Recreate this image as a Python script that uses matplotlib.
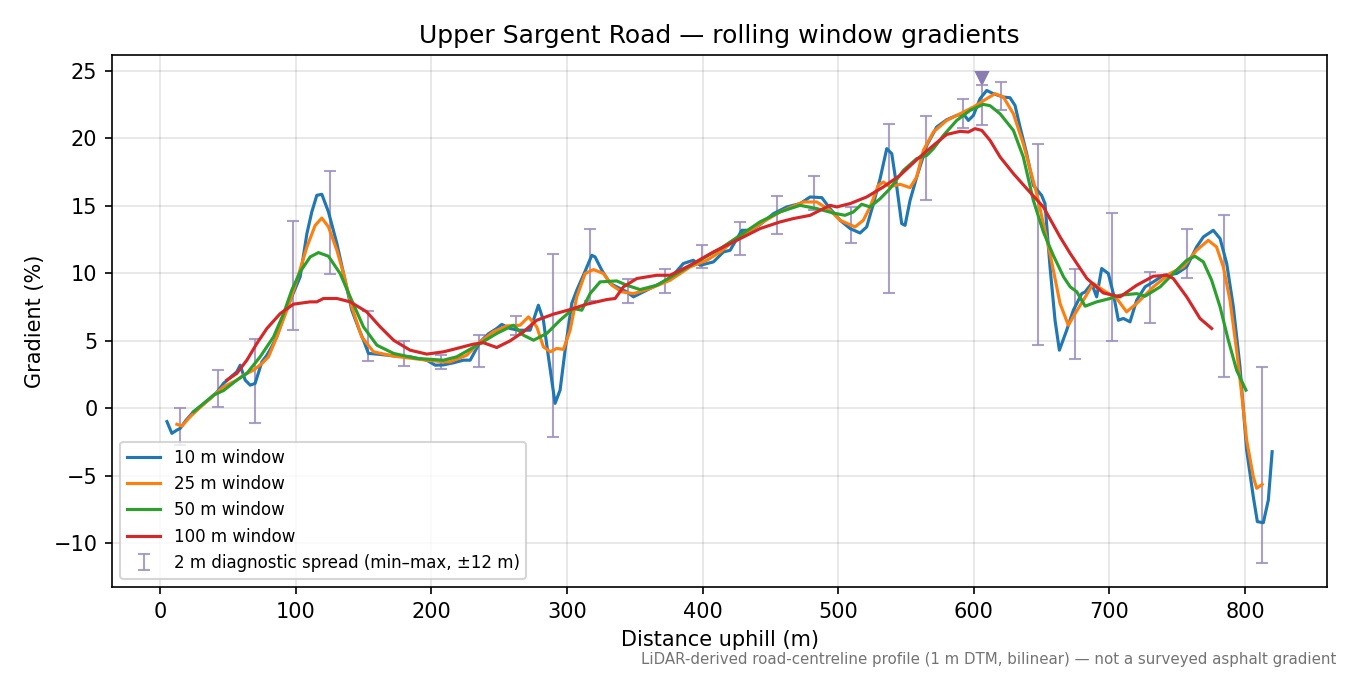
import matplotlib
matplotlib.use("Agg")
import matplotlib.pyplot as plt
import numpy as np

# ---------------- data ----------------
dist_10 = [5, 8.6, 12.3, 14.8, 19, 24.6, 30, 36.9, 42, 46.7, 52, 56.5, 59, 62.7, 66.4, 70, 75, 78.7, 82, 86,
           91, 97, 103.2, 108.2, 111.8, 115.5, 119.2, 124.1, 130.3, 135.2, 141.3, 146, 149.9, 153.6, 159.8,
           172.1, 184.3, 196.6, 202.8, 208.9, 216, 223.6, 228.6, 236, 242, 248.2, 251.9, 258, 264.2, 272.8,
           278.9, 282.6, 286.3, 291.2, 294.9, 298.6, 303.5, 307.2, 312.1, 318.3, 320.7, 325.7, 331.8, 336.7,
           344.1, 349, 356.3, 364, 371.1, 377.2, 385.8, 393.2, 398.2, 408, 415.4, 420.3, 428.9, 435, 442.4,
           452.2, 462, 471.9, 479.3, 487.9, 494, 501.4, 508.8, 516.1, 521, 526, 530.9, 535.8, 539.5, 543.2,
           546.8, 549.3, 553, 557.9, 565.3, 572.6, 580, 587.4, 592.3, 596, 599.7, 604.6, 609.5, 614.4, 621.8,
           626.7, 630.4, 634.1, 639, 643.9, 650, 652.5, 656.2, 659.9, 663.1, 668.5, 673.4, 679.6, 682, 686.9,
           690.6, 694.3, 699.2, 702.9, 706.6, 710.3, 715.2, 720.1, 726.3, 732.4, 739.8, 749.6, 757, 764.3,
           769.3, 776.6, 781.6, 786.5, 791.4, 796.3, 801.2, 806.1, 809.1, 813.5, 817.2, 820]
grad_10 = [-1.0, -1.87, -1.63, -1.5, -0.9, -0.27, 0.15, 0.71, 1.2, 1.83, 2.3, 2.69, 3.18, 2.07, 1.7, 1.83, 3.43,
           3.92, 4.5, 5.28, 6.76, 8.24, 9.72, 12.93, 14.53, 15.76, 15.84, 14.53, 12.19, 9.97, 7.25, 6.0, 5.03,
           4.05, 4.0, 3.87, 3.8, 3.55, 3.18, 3.2, 3.35, 3.55, 3.55, 4.91, 5.5, 5.9, 6.2, 5.9, 5.77, 5.77, 7.62,
           6.51, 3.8, 0.35, 1.33, 4.29, 7.75, 8.73, 9.84, 11.32, 11.2, 10.21, 9.23, 8.98, 8.61, 8.24, 8.61, 9.0,
           9.35, 9.72, 10.71, 10.95, 10.58, 10.83, 11.57, 11.69, 13.17, 13.17, 13.6, 14.4, 14.9, 15.15, 15.64,
           15.59, 14.78, 13.91, 13.3, 12.97, 13.42, 15.15, 17.0, 19.22, 18.85, 16.38, 13.67, 13.54, 15.39, 17.12,
           19.46, 20.82, 21.36, 21.68, 21.8, 21.31, 21.68, 22.92, 23.53, 23.29, 23.04, 22.99, 22.42, 20.82, 18.85,
           16.5, 15.76, 15.15, 10.46, 6.51, 4.29, 5.77, 7.25, 8.48, 8.6, 9.23, 8.24, 10.34, 9.97, 8.48, 6.51, 6.64,
           6.39, 7.99, 8.98, 9.35, 9.84, 9.97, 10.46, 11.94, 12.68, 13.17, 12.56, 10.71, 7.5, 3.06, -3.11, -6.56,
           -8.41, -8.49, -6.81, -3.23]

dist_25 = [12.3, 16, 22.1, 30, 36.9, 46.7, 56.5, 61.4, 68.8, 75, 79.9, 86, 93.4, 100.8, 108.2, 114.3, 119.2,
           124.1, 130.3, 135.2, 141.3, 148.6, 157.3, 172.1, 196.6, 208.9, 213.8, 226.1, 236, 245.7, 255.6, 265.4,
           271.6, 277.7, 282.6, 287.6, 292.5, 297.4, 302.3, 307.2, 313.4, 319.5, 326.9, 333.1, 340.4, 349, 361.3,
           376, 390.8, 403.1, 413, 425.2, 435, 444.8, 457.1, 474.3, 484.1, 494, 501.4, 512.4, 518.5, 523.5,
           529.6, 533.3, 538.2, 545.6, 553, 557.9, 562.8, 570.2, 580, 589.8, 599.7, 609.5, 615.7, 621.8, 629.2,
           636.5, 646.4, 656.2, 663.6, 669.7, 674.7, 680.8, 688.1, 695.5, 705.4, 712.7, 720.1, 732.4, 744.7,
           754.5, 764.3, 772.9, 779, 784, 788.9, 793.8, 797.5, 801.2, 806.1, 808.6, 812.7]
grad_25 = [-1.2, -1.33, -0.64, 0.1, 0.71, 1.58, 2.07, 2.44, 2.81, 3.3, 3.8, 5.28, 7.25, 9.47, 11.94, 13.54, 14.08,
           13.42, 11.69, 9.97, 7.5, 5.28, 4.17, 3.85, 3.55, 3.43, 3.43, 3.92, 4.91, 5.65, 6.09, 6.14, 6.76, 6.02,
           4.54, 4.17, 4.42, 4.35, 5.77, 8.24, 9.97, 10.26, 9.97, 9.1, 8.61, 8.48, 8.86, 9.47, 10.46, 10.95, 11.57,
           12.56, 13.17, 13.8, 14.53, 15.27, 15.27, 14.65, 13.91, 13.42, 13.91, 14.9, 16.5, 16.75, 16.4, 16.58,
           16.33, 17.12, 19.09, 20.45, 21.31, 21.8, 22.3, 22.92, 23.29, 23.04, 21.8, 19.58, 15.88, 11.45, 7.75,
           6.14, 7.0, 7.99, 9.23, 8.73, 8.12, 7.13, 7.75, 8.98, 9.97, 10.46, 11.69, 12.43, 11.94, 10.46, 7.99,
           4.29, 1.09, -2.36, -5.08, -5.94, -5.65]

dist_50 = [24.6, 39.3, 46.7, 56.5, 63.9, 73.7, 83.6, 91, 97, 103.2, 110.6, 116.7, 124.1, 132.7, 140.1, 149.9,
           159.8, 172.1, 189.2, 208.9, 218.7, 236, 248.2, 260.5, 267.9, 275.3, 285.1, 294.9, 304.8, 310.9, 317,
           324.4, 336.7, 344.1, 353.9, 366.2, 381, 395.7, 413, 427.7, 442.4, 457.1, 471.9, 484.1, 496.4, 505,
           511.2, 517.3, 523.5, 530.9, 538.2, 548.1, 557.9, 565.3, 570.2, 577.6, 587.4, 597.2, 607, 612, 619.4,
           629.2, 636.5, 643.9, 651.3, 658.7, 666.2, 671.1, 676, 682.1, 690.6, 700.5, 707.8, 720.1, 726.3, 737.4,
           747.1, 757, 763.1, 769.3, 775.4, 781.6, 787.7, 793.8, 800.7]
grad_50 = [-0.27, 0.96, 1.3, 2.07, 2.57, 3.8, 5.28, 7.0, 8.73, 10.09, 11.2, 11.52, 11.25, 9.97, 8.24, 6.02, 4.66,
           4.05, 3.68, 3.55, 3.8, 4.79, 5.53, 6.14, 5.4, 5.03, 5.53, 6.51, 7.38, 7.25, 8.48, 9.35, 9.42, 9.1, 8.78,
           9.1, 9.97, 10.83, 11.81, 12.8, 13.8, 14.53, 15.02, 14.78, 14.45, 14.28, 14.53, 15.1, 14.9, 15.51, 16.26,
           17.61, 18.48, 18.72, 19.22, 20.2, 21.31, 22.05, 22.5, 22.4, 21.8, 20.57, 18.6, 15.39, 13.05, 11.3, 9.72,
           8.98, 8.61, 7.55, 7.87, 8.12, 8.36, 8.48, 8.29, 8.98, 9.97, 10.95, 11.25, 10.83, 9.47, 7.5, 5.03, 2.81,
           1.33]

dist_100 = [49.1, 56.5, 63.9, 71.3, 78.7, 88.5, 98.3, 110.6, 115.5, 120.4, 130.3, 140.1, 152.3, 162.2, 172.1,
            184.3, 196.6, 208.9, 213.8, 231, 238.4, 248.2, 258, 267.9, 277.7, 290, 302.3, 314.6, 329.3, 335.5,
            341.6, 351.5, 366.2, 376, 390.8, 408, 425.2, 442.4, 457.1, 466.9, 479.3, 486.6, 494, 498.9, 508.8,
            521, 533.3, 545.6, 557.9, 570.2, 580, 589.8, 596, 600.9, 605.9, 612, 619.4, 629.2, 639, 651.3, 663.6,
            671.1, 683.4, 695.5, 707.8, 720.1, 732.4, 742.3, 747.1, 757, 766.8, 775.4]
grad_100 = [2.07, 2.57, 3.55, 4.79, 5.9, 7.0, 7.7, 7.87, 7.87, 8.12, 8.12, 7.87, 7.13, 6.02, 5.03, 4.29, 4.0,
            4.17, 4.29, 4.74, 4.84, 4.49, 4.98, 5.65, 6.51, 6.96, 7.3, 7.7, 8.04, 8.12, 8.98, 9.6, 9.84, 9.84,
            10.58, 11.57, 12.43, 13.3, 13.79, 14.04, 14.28, 14.65, 15.02, 14.9, 15.15, 15.64, 16.38, 17.24, 18.4,
            19.46, 20.27, 20.5, 20.45, 20.7, 20.57, 19.83, 18.6, 17.37, 16.26, 14.9, 12.68, 11.45, 9.6, 8.53, 8.24,
            9.1, 9.77, 9.84, 9.6, 8.24, 6.64, 5.9]

spread_x = [14.7, 42.3, 70, 97.6, 125.3, 152.9, 179.9, 207, 235.2, 262.5, 290, 317.3, 345.1, 372.4, 399.9,
            427.6, 454.7, 482.2, 509.3, 537.3, 564.6, 591.8, 605.8, 619.8, 647.4, 674.7, 701.7, 730, 757,
            784.5, 812.5]
spread_min = [-2.74, 0.1, -1.09, 5.77, 9.92, 3.5, 3.11, 2.89, 3.06, 5.4, -2.17, 7.92, 7.75, 8.53, 10.41, 11.32,
              12.93, 14.65, 12.23, 8.53, 15.39, 20.72, 21.0, 22.1, 4.66, 3.63, 4.96, 6.31, 9.64, 2.32, -11.45]
spread_max = [-0.02, 2.81, 5.1, 13.84, 17.56, 7.18, 4.96, 3.92, 5.4, 6.81, 11.45, 13.3, 9.6, 10.34, 12.06, 13.79,
              15.69, 17.17, 14.9, 21.02, 21.61, 22.92, 23.9, 24.15, 19.54, 10.34, 14.45, 10.09, 13.25, 14.28, 3.06]

peak_x = 605.8
peak_marker_y = 24.45

series_labels = ["10 m window", "25 m window", "50 m window", "100 m window"]
spread_label = "2 m diagnostic spread (min\u2013max, \u00b112 m)"
title = "Upper Sargent Road \u2014 rolling window gradients"
xlabel = "Distance uphill (m)"
ylabel = "Gradient (%)"
footnote = "LiDAR-derived road-centreline profile (1 m DTM, bilinear) \u2014 not a surveyed asphalt gradient"

# ---------------- plot ----------------
fig = plt.figure(figsize=(9, 4.5), dpi=150)
ax = fig.add_axes([0.083, 0.1304, 0.9, 0.788])

colors = ["#1f77b4", "#ff7f0e", "#2ca02c", "#d62728"]
for d, g, lab, c in zip([dist_10, dist_25, dist_50, dist_100],
                        [grad_10, grad_25, grad_50, grad_100], series_labels, colors):
    ax.plot(d, g, color=c, lw=1.5, label=lab, zorder=3)

smin = np.array(spread_min)
smax = np.array(spread_max)
mid = (smin + smax) / 2
half = (smax - smin) / 2
ax.errorbar(spread_x, mid, yerr=half, fmt="none", ecolor="#9d90c0", elinewidth=1.0,
            capsize=3, capthick=1.0, alpha=0.85, zorder=2, label=spread_label)

ax.plot([peak_x], [peak_marker_y], marker="v", color="#8a7bb0", markersize=6, ls="none", zorder=4)

ax.set_xlim(-35.5, 860.5)
ax.set_ylim(-13.25, 26.15)
ax.set_xticks(np.arange(0, 801, 100))
ax.set_yticks(np.arange(-10, 26, 5))
ax.grid(True, color="#000000", alpha=0.1, lw=0.8)
ax.set_axisbelow(True)

ax.set_title(title, fontsize=12)
ax.set_xlabel(xlabel, fontsize=10)
ax.set_ylabel(ylabel, fontsize=10)
ax.tick_params(labelsize=10)

ax.legend(loc="lower left", fontsize=8)

fig.text(0.99, 0.012, footnote, ha="right", va="bottom", fontsize=7.2, color="0.45")

fig.savefig("out.png", dpi=150)
